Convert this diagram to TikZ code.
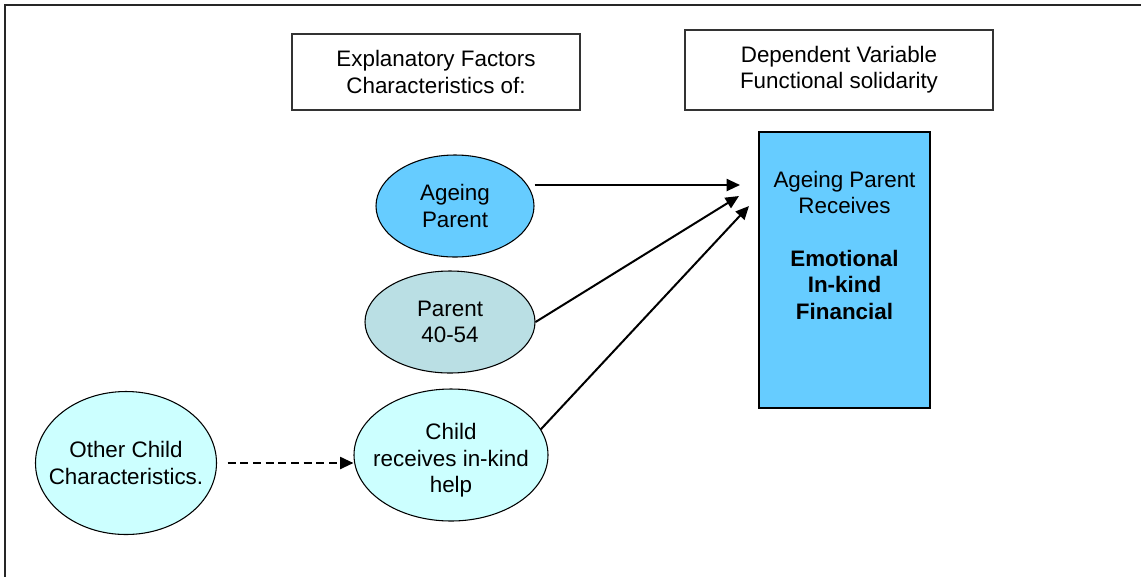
\documentclass[tikz,border=0pt]{standalone}
\usepackage{fontspec}
\setmainfont{Liberation Sans}
\usetikzlibrary{arrows.meta,positioning,shapes.geometric}
\definecolor{skyfill}{HTML}{66CCFF}
\definecolor{greyfill}{HTML}{BADFE4}
\definecolor{palefill}{HTML}{CCFFFF}
\tikzset{
  headbox/.style={draw=black!80,line width=1pt,align=center,inner sep=0pt},
  factor/.style={ellipse,draw,line width=0.8pt,inner sep=0pt},
  inside/.style={label={[align=center]center:#1}},
  link/.style={line width=1.5pt,-{Triangle[length=10pt,width=9pt]}}
}

\begin{document}
\begin{tikzpicture}[x=0.75pt,y=-0.75pt,font=\fontsize{16.8}{19.8}\selectfont]
\useasboundingbox (0,0) rectangle (1141,576);
\clip (0,0) rectangle (1141,576);
\draw[line width=1.2pt,black!85] (1160,5) -- (5,5) -- (5,600);

% headings
\node[headbox,minimum width=216pt,minimum height=57pt] (expl) at (436,72) {Explanatory Factors\\Characteristics of:};
\node[headbox,minimum width=231pt,minimum height=60pt] (dep) at (839,70) {Dependent Variable\\Functional solidarity};

% dependent variable
\node[draw,line width=0.8pt,fill=skyfill,minimum width=128.25pt,minimum height=207pt] (recv) at (844.5,270) {};
\node[align=center] (recvtxt) at (844.5,245) {Ageing Parent\\Receives\\[19.8pt]\textbf{Emotional}\\\textbf{In-kind}\\\textbf{Financial}};

% explanatory factors
\node[factor,fill=skyfill,minimum width=118.5pt,minimum height=76.5pt,inside={Ageing\\Parent}] (ap) at (455,206) {};
\node[factor,fill=greyfill,minimum width=127.5pt,minimum height=76.5pt,inside={Parent\\40-54}] (pp) at (450,322) {};
\node[factor,fill=palefill,minimum width=145.5pt,minimum height=99pt,
  label={[align=center,yshift=-4pt]center:{Child\\receives in-kind\\help}}] (ch) at (451,455) {};
\node[factor,fill=palefill,minimum width=135.75pt,minimum height=107.25pt,inside={Other Child\\Characteristics.}] (ot) at (126,463) {};

% arrows
\coordinate (tipA) at (740,185);
\coordinate (tipB) at (739,196);
\coordinate (tipC) at (749,206);
\draw[link] (ap.east |- tipA) -- (tipA);
\draw[link] (pp.east) -- (tipB);
\draw[link] (ch.16) -- (tipC);
\draw[link,dash pattern=on 6pt off 3.5pt] ([xshift=8pt]ot.east) -- (ot.east -| ch.west);
\end{tikzpicture}
\end{document}
